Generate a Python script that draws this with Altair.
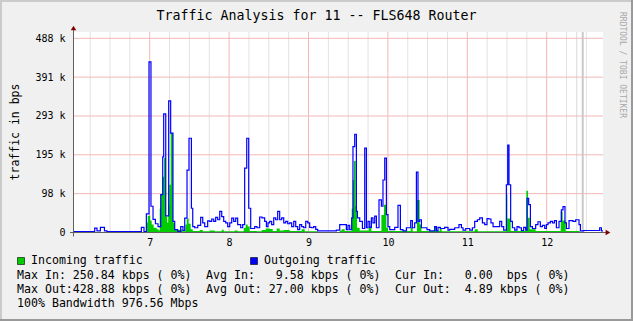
import altair as alt
import pandas as pd

# ---------------- data (hours of day, kbps) ----------------
out_t = [6.034, 6.307, 6.336, 6.379, 6.430, 6.462, 6.895, 6.928, 6.958, 6.991, 7.016, 7.042, 7.072, 7.105,
         7.139, 7.164, 7.176, 7.202, 7.239, 7.264, 7.293, 7.315, 7.353, 7.390, 7.419, 7.441, 7.470, 7.495,
         7.525, 7.542, 7.567, 7.605, 7.642, 7.668, 7.693, 7.730, 7.756, 7.781, 7.806, 7.831, 7.856, 7.882,
         7.907, 7.932, 7.957, 7.982, 8.008, 8.033, 8.058, 8.083, 8.108, 8.146, 8.171, 8.196, 8.222, 8.247,
         8.272, 8.322, 8.351, 8.385, 8.414, 8.448, 8.470, 8.490, 8.511, 8.536, 8.562, 8.587, 8.612, 8.637,
         8.662, 8.688, 8.713, 8.738, 8.763, 8.788, 8.814, 8.839, 8.864, 8.889, 8.914, 8.939, 8.965, 8.990,
         9.015, 9.040, 9.065, 9.091, 9.116, 9.351, 9.393, 9.477, 9.497, 9.519, 9.544, 9.560, 9.582, 9.603,
         9.616, 9.645, 9.679, 9.708, 9.729, 9.749, 9.771, 9.792, 9.812, 9.834, 9.855, 9.888, 9.918, 9.938,
         9.960, 9.981, 10.001, 10.023, 10.086, 10.127, 10.157, 10.190, 10.233, 10.287, 10.308, 10.337, 10.359,
         10.379, 10.400, 10.422, 10.492, 10.526, 10.589, 10.611, 10.631, 10.661, 10.715, 10.757, 10.778,
         10.841, 10.895, 10.926, 10.946, 10.980, 11.030, 11.064, 11.093, 11.127, 11.156, 11.190, 11.219,
         11.248, 11.273, 11.298, 11.324, 11.408, 11.433, 11.458, 11.492, 11.509, 11.525, 11.546, 11.568,
         11.597, 11.626, 11.651, 11.681, 11.710, 11.735, 11.752, 11.773, 11.795, 11.820, 11.861, 11.890,
         11.920, 11.946, 11.975, 11.996, 12.016, 12.046, 12.072, 12.097, 12.122, 12.155, 12.185, 12.205,
         12.230, 12.248, 12.281, 12.331, 12.365, 12.407, 12.424, 12.466, 12.667, 12.689, 12.709]
out_v = [2, 11, 4, 13, 4, 2, 13, 2, 47, 429, 66, 33, 22, 15,
         95, 190, 298, 42, 331, 250, 28, 7, 3, 15, 5, 36, 157, 237,
         61, 15, 12, 18, 38, 24, 15, 29, 28, 34, 28, 38, 32, 53,
         40, 28, 24, 15, 24, 36, 28, 36, 20, 12, 20, 162, 237, 61,
         10, 15, 12, 39, 37, 28, 15, 24, 28, 20, 37, 32, 53, 32,
         37, 24, 28, 22, 24, 15, 28, 15, 7, 20, 15, 12, 28, 24,
         13, 12, 15, 8, 4, 6, 20, 7, 18, 7, 37, 216, 247, 53,
         37, 28, 10, 212, 12, 28, 13, 37, 24, 41, 12, 82, 66, 132,
         187, 45, 15, 7, 13, 68, 7, 4, 12, 30, 12, 24, 152,
         28, 32, 12, 7, 4, 15, 4, 13, 10, 13, 6, 8,
         12, 20, 12, 6, 10, 6, 12, 28, 32, 37, 24, 20,
         35, 34, 24, 15, 28, 15, 6, 120, 220, 120, 28, 12,
         6, 15, 12, 5, 13, 6, 86, 70, 15, 10, 20, 27,
         15, 18, 10, 20, 24, 28, 24, 30, 12, 28, 57, 65,
         24, 10, 30, 28, 32, 20, 4, 5, 12, 4, 4]

in_t = [6.034, 6.874, 6.958, 6.975, 7.006, 7.025, 7.050, 7.088, 7.113, 7.126, 7.142, 7.160, 7.180, 7.202,
        7.220, 7.233, 7.246, 7.264, 7.293, 7.315, 7.390, 7.416, 7.450, 7.466, 7.491, 7.516, 7.542, 7.630,
        7.668, 7.756, 7.819, 7.907, 7.932, 8.070, 8.108, 8.184, 8.209, 8.234, 8.259, 8.348, 8.411, 8.461,
        8.511, 8.549, 8.599, 8.637, 8.688, 8.763, 8.914, 8.952, 9.116, 9.393, 9.418, 9.456, 9.544, 9.557,
        9.573, 9.594, 9.611, 9.645, 9.758, 9.792, 9.918, 9.951, 9.981, 10.001, 10.287, 10.312, 10.366,
        10.400, 10.422, 10.589, 10.614, 10.652, 10.677, 11.093, 11.131, 11.492, 11.505, 11.546, 11.744,
        11.764, 11.786, 11.861, 12.176, 12.201, 12.239, 12.415, 12.709]
in_v = [0.5, 1, 25, 42, 30, 20, 12, 8, 5, 60, 95, 140, 187, 40,
        25, 70, 120, 250, 25, 6, 8, 3, 20, 35, 22, 8, 4, 6,
        3, 5, 3, 7, 3, 5, 3, 12, 20, 15, 4, 3, 6, 10,
        9, 4, 10, 5, 6, 4, 8, 3, 1, 5, 8, 4, 60, 132,
        180, 66, 12, 5, 15, 4, 44, 70, 12, 4, 12, 3, 82,
        20, 4, 15, 4, 10, 3, 8, 3, 95, 35, 4, 105,
        37, 8, 4, 53, 30, 4, 1, 1]

unknown_start = [12.375, 12.441]
unknown_end = [12.384, 12.466]

x_major = [7, 8, 9, 10, 11, 12]
x_minor = [6.25, 6.5, 6.75, 7.25, 7.5, 7.75, 8.25, 8.5, 8.75, 9.25, 9.5, 9.75,
           10.25, 10.5, 10.75, 11.25, 11.5, 11.75, 12.25, 12.5]
y_major = [97.66, 195.31, 292.97, 390.63, 488.28]
y_axis_values = [0, 97.66, 195.31, 292.97, 390.63, 488.28]

title_text = "Traffic Analysis for 11 -- FLS648 Router"
y_title = "traffic in bps"
watermark = "RRDTOOL / TOBI OETIKER"
legend_in = "Incoming traffic"
legend_out = "Outgoing traffic"
stat_rows = [
    ["Max In: 250.84 kbps ( 0%)", "Avg In:   9.58 kbps ( 0%)", "Cur In:   0.00  bps ( 0%)"],
    ["Max Out:428.88 kbps ( 0%)", "Avg Out: 27.00 kbps ( 0%)", "Cur Out:  4.89 kbps ( 0%)"],
]
bandwidth_text = "100% Bandwidth 976.56 Mbps"

# ---------------- chart ----------------
FONT = "DejaVu Sans Mono"
W, H = 530, 200.5
xs = alt.Scale(domain=[6.034, 12.709], nice=False, zero=False)
ys = alt.Scale(domain=[0, 504.1], nice=False, zero=True)

X_AXIS = alt.Axis(values=x_major, format="d", domain=False, ticks=False, grid=False,
                  labelFont=FONT, labelFontSize=10, labelColor="#000000", labelPadding=5,
                  labelAngle=0, title=None)
Y_AXIS = alt.Axis(values=y_axis_values, domain=False, ticks=False, grid=False,
                  labelExpr="datum.value == 0 ? '0' : format(datum.value, '.0f') + ' k'",
                  labelFont=FONT, labelFontSize=10, labelColor="#000000", labelPadding=8,
                  title=None)


def X(field):
    return alt.X(field, scale=xs, axis=X_AXIS, title=None)


def Y(field):
    return alt.Y(field, scale=ys, axis=Y_AXIS, title=None)


df_out = pd.DataFrame({"t": out_t, "v": out_v})
df_in = pd.DataFrame({"t": in_t, "v": in_v})


def nb(s):
    return s.replace(" ", "\u00a0")


minor_grid = alt.Chart(pd.DataFrame({"t": x_minor})).mark_rule(color="#E2E2E2", strokeWidth=1).encode(
    x=X("t:Q"))

major_vgrid = alt.Chart(pd.DataFrame({"t": x_major})).mark_rule(color="#F3B7B7", strokeWidth=1).encode(
    x=X("t:Q"))

major_hgrid = alt.Chart(pd.DataFrame({"v": y_major})).mark_rule(color="#F3B7B7", strokeWidth=1).encode(
    y=Y("v:Q"))

unknown = alt.Chart(pd.DataFrame({"a": unknown_start, "b": unknown_end})).mark_rect(
    color="#C8C8C8").encode(x=X("a:Q"), x2="b:Q")

area_in = alt.Chart(df_in).mark_area(interpolate="step-after", color="#00CC00", clip=True).encode(
    x=X("t:Q"), y=Y("v:Q"))

line_out = alt.Chart(df_out).mark_line(interpolate="step-after", color="#0000FF", strokeWidth=1.2,
                                       clip=True).encode(x=X("t:Q"), y=Y("v:Q"))

one = pd.DataFrame({"k": [0]})

y_axis_line = alt.Chart(one).mark_rule(color="#606060", strokeWidth=1).encode(
    x=alt.value(0.5), y=alt.value(-4), y2=alt.value(204.5))
x_axis_line = alt.Chart(one).mark_rule(color="#606060", strokeWidth=1).encode(
    x=alt.value(-3), x2=alt.value(533), y=alt.value(200.5))
arrow_up = alt.Chart(one).mark_point(shape="triangle-up", filled=True, color="#800000", size=30,
                                     opacity=1).encode(x=alt.value(0.5), y=alt.value(-4))
arrow_right = alt.Chart(one).mark_point(shape="triangle-right", filled=True, color="#800000", size=30,
                                        opacity=1).encode(x=alt.value(535), y=alt.value(200.5))

# 3-D frame around the whole image (light top/left, dark bottom/right)
frame_top = alt.Chart(one).mark_rule(color="#CBCBCB", strokeWidth=2).encode(
    x=alt.value(-73), x2=alt.value(560), y=alt.value(-31))
frame_left = alt.Chart(one).mark_rule(color="#CBCBCB", strokeWidth=2).encode(
    x=alt.value(-72), y=alt.value(-32), y2=alt.value(289))
frame_right = alt.Chart(one).mark_rule(color="#999999", strokeWidth=2).encode(
    x=alt.value(559), y=alt.value(-32), y2=alt.value(289))
frame_bottom = alt.Chart(one).mark_rule(color="#999999", strokeWidth=2).encode(
    x=alt.value(-73), x2=alt.value(560), y=alt.value(288))


def text_layer(txt, x, y, size, align="left", angle=0, color="#000000"):
    return alt.Chart(pd.DataFrame({"s": [nb(txt)]})).mark_text(
        font=FONT, fontSize=size, align=align, baseline="middle", angle=angle, color=color).encode(
        text="s:N", x=alt.value(x), y=alt.value(y))


title = text_layer(title_text, 243.5, -16, 13.3, align="center")
ytitle = text_layer(y_title, -57, 100, 11.5, align="center", angle=270)
wmark = text_layer(watermark, 549, 33, 8, align="center", angle=90, color="#A8A8A8")

box_in = alt.Chart(one).mark_rect(color="#00CC00", stroke="#000000", strokeWidth=0.6).encode(
    x=alt.value(-55.5), x2=alt.value(-48.5), y=alt.value(225.5), y2=alt.value(232.5))
box_out = alt.Chart(one).mark_rect(color="#0000FF", stroke="#000000", strokeWidth=0.6).encode(
    x=alt.value(177.5), x2=alt.value(184.5), y=alt.value(225.5), y2=alt.value(232.5))
leg_in = text_layer(legend_in, -42, 229, 11.6)
leg_out = text_layer(legend_out, 191, 229, 11.6)

stat_layers = []
for r, row in enumerate(stat_rows):
    for c, cell in enumerate(row):
        stat_layers.append(text_layer(cell, -56 + 189 * c, 243.5 + 14 * r, 11.6))
bw = text_layer(bandwidth_text, -56, 271.5, 11.6)

chart = alt.layer(
    minor_grid, major_vgrid, major_hgrid, unknown, area_in, line_out,
    y_axis_line, x_axis_line, arrow_up, arrow_right,
    frame_top, frame_left, frame_right, frame_bottom,
    title, ytitle, wmark, box_in, box_out, leg_in, leg_out, *stat_layers, bw
).properties(
    width=W, height=H,
    autosize=alt.AutoSizeParams(type="none"),
    padding={"left": 73, "top": 32, "right": 30, "bottom": 88.5},
    background="#F0F0F0",
).configure_view(fill="#FFFFFF", strokeWidth=0)

chart.save("out.html", embed_options={"renderer": "svg", "actions": False})
